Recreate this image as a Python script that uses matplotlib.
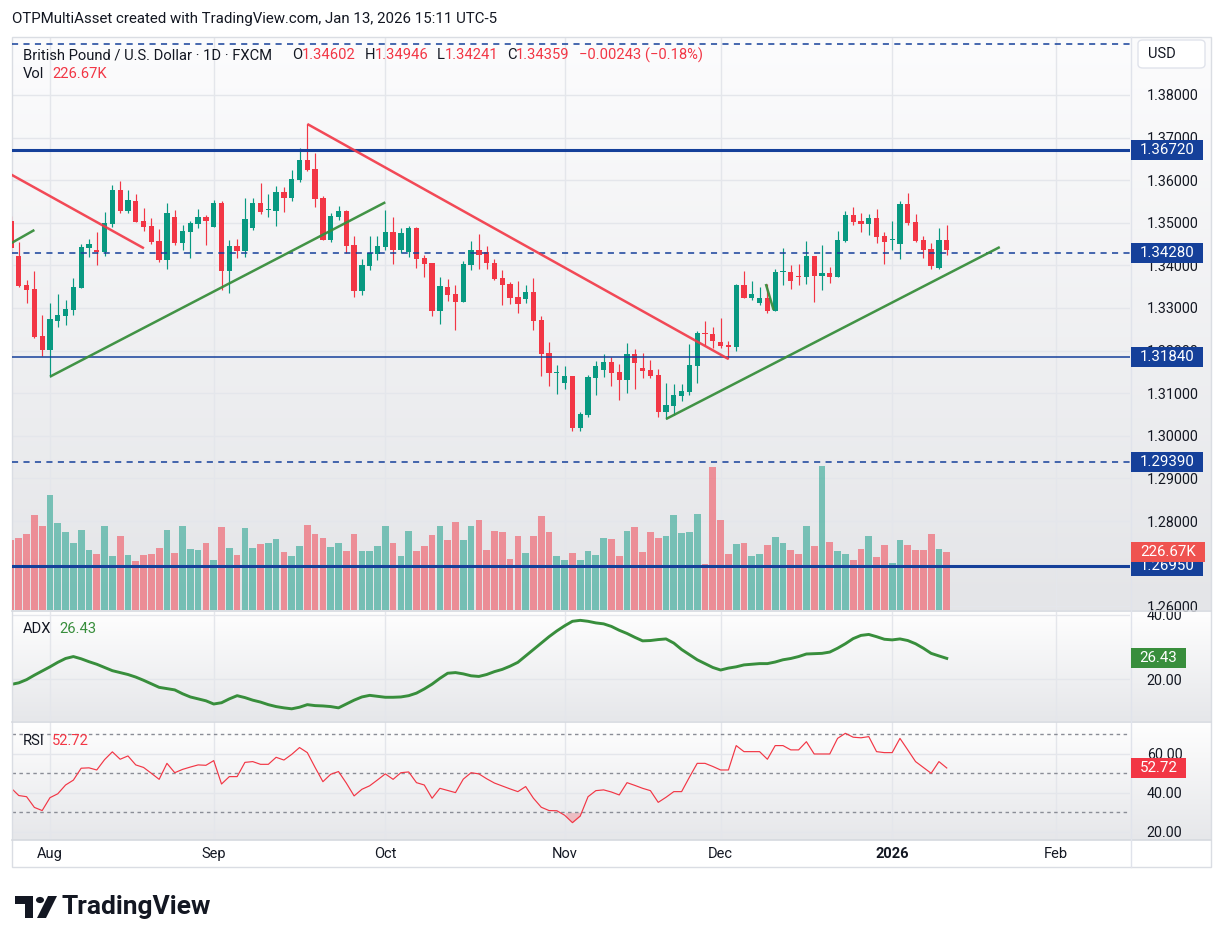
import numpy as np
import matplotlib
matplotlib.use('Agg')
import matplotlib.pyplot as plt
from matplotlib.patches import Rectangle, FancyBboxPatch, Polygon, Circle
from matplotlib.lines import Line2D
from matplotlib.colors import LinearSegmentedColormap
from matplotlib.transforms import blended_transform_factory

plt.rcParams['font.family'] = ['Roboto', 'DejaVu Sans']

# --- данные: дневные свечи GBPUSD (FXCM), 25 июл 2025 - 13 янв 2026 ---
opens = [1.3505, 1.34221, 1.3354, 1.33446, 1.32343, 1.32014, 1.32695, 1.32819, 1.32953, 1.33477,
         1.34409, 1.34362, 1.34322, 1.34972, 1.3577, 1.35284, 1.35512, 1.35042, 1.34925, 1.34573,
         1.34134, 1.35136, 1.34533, 1.34791, 1.34972, 1.35136, 1.34901, 1.35465, 1.33869, 1.34455,
         1.34345, 1.34878, 1.35465, 1.3530, 1.35284, 1.35723, 1.35582, 1.36005, 1.36474, 1.36263,
         1.35582, 1.34603, 1.35136, 1.35277, 1.34479, 1.33399, 1.33993, 1.34275, 1.34432, 1.34784,
         1.34362, 1.34315, 1.34878, 1.34181, 1.34056, 1.32937, 1.33493, 1.33329, 1.33141, 1.34016,
         1.34362, 1.34308, 1.34049, 1.33704, 1.33563, 1.3325, 1.33211, 1.33376, 1.32718, 1.31944,
         1.3148, 1.31239, 1.31404, 1.30183, 1.30488, 1.31357, 1.31545, 1.31732, 1.31497, 1.3131,
         1.3192, 1.31592, 1.31545, 1.31427, 1.30559, 1.307, 1.30934, 1.31028, 1.31639, 1.3241,
         1.3239, 1.32202, 1.32131, 1.32092, 1.3354, 1.33235, 1.33117, 1.33235, 1.3293, 1.3384,
         1.33845, 1.3376, 1.33728, 1.34221, 1.33751, 1.33822, 1.33728, 1.34573, 1.35183, 1.35042,
         1.34972, 1.35113, 1.3469, 1.3459, 1.34502, 1.35441, 1.35019, 1.34596, 1.34385, 1.33939,
         1.34602]
highs = [1.3515, 1.34557, 1.33657, 1.33869, 1.32836, 1.33125, 1.33329, 1.33188, 1.33704, 1.34502,
         1.34627, 1.34784, 1.35254, 1.35887, 1.35981, 1.3577, 1.35676, 1.35347, 1.35113, 1.34854,
         1.35465, 1.353, 1.34948, 1.35042, 1.35324, 1.35183, 1.35535, 1.35512, 1.34596, 1.3462,
         1.35582, 1.35582, 1.35941, 1.35676, 1.35864, 1.3584, 1.36239, 1.36756, 1.37319, 1.36639,
         1.35622, 1.3523, 1.35394, 1.3531, 1.3469, 1.3415, 1.3469, 1.3469, 1.353, 1.35136,
         1.34878, 1.34925, 1.34901, 1.34244, 1.3406, 1.33728, 1.33681, 1.33547, 1.34103, 1.34573,
         1.34737, 1.34455, 1.34143, 1.33892, 1.3361, 1.33634, 1.3354, 1.33704, 1.32812, 1.32202,
         1.31662, 1.31639, 1.3141, 1.30559, 1.31427, 1.31756, 1.3192, 1.3185, 1.31685, 1.32178,
         1.32038, 1.31944, 1.31779, 1.31568, 1.31239, 1.31216, 1.31216, 1.32155, 1.3246, 1.32695,
         1.32554, 1.32765, 1.32225, 1.33563, 1.33869, 1.33634, 1.33493, 1.33563, 1.33916, 1.34409,
         1.34009, 1.34033, 1.34573, 1.3423, 1.34479, 1.33962, 1.34808, 1.35277, 1.35371, 1.3523,
         1.35207, 1.35324, 1.34784, 1.35042, 1.35512, 1.357, 1.35207, 1.3469, 1.34526, 1.34878,
         1.34946]
lows = [1.3430, 1.3350, 1.3311, 1.3230, 1.31873, 1.31388, 1.32561, 1.32608, 1.32836, 1.3347,
        1.34204, 1.34016, 1.34228, 1.34908, 1.35237, 1.35237, 1.3502, 1.34815, 1.34509, 1.34087,
        1.33923, 1.34479, 1.34369, 1.34181, 1.34878, 1.34479, 1.3490, 1.33423, 1.33359, 1.34181,
        1.34204, 1.34831, 1.35207, 1.35143, 1.34925, 1.35254, 1.35519, 1.35958, 1.3622, 1.35378,
        1.3460, 1.34549, 1.35066, 1.34298, 1.33265, 1.33305, 1.33892, 1.34127, 1.34362, 1.3404,
        1.34291, 1.34204, 1.33946, 1.33735, 1.32812, 1.32631, 1.33164, 1.32484, 1.3313, 1.33899,
        1.33923, 1.33923, 1.33657, 1.3307, 1.33094, 1.32883, 1.33117, 1.32484, 1.31404, 1.31169,
        1.30981, 1.31099, 1.30113, 1.30113, 1.30441, 1.30958, 1.3138, 1.31169, 1.3084, 1.31005,
        1.31099, 1.31357, 1.31357, 1.30441, 1.30394, 1.30488, 1.30817, 1.30958, 1.31239, 1.32131,
        1.32061, 1.32068, 1.31803, 1.31998, 1.3323, 1.33188, 1.3307, 1.32883, 1.3292, 1.3354,
        1.33446, 1.3354, 1.33563, 1.33141, 1.33423, 1.33587, 1.3372, 1.3456, 1.34948, 1.34784,
        1.34714, 1.34526, 1.34033, 1.34362, 1.3415, 1.34948, 1.3456, 1.34174, 1.33916, 1.3392,
        1.34241]
closes = [1.3440, 1.33524, 1.33423, 1.32319, 1.32014, 1.32742, 1.32836, 1.32977, 1.335, 1.34439,
          1.34502, 1.34322, 1.34995, 1.3577, 1.35284, 1.35535, 1.35026, 1.34901, 1.34556, 1.34134,
          1.3523, 1.34526, 1.34808, 1.34995, 1.35136, 1.35042, 1.35465, 1.33869, 1.34455, 1.34338,
          1.35089, 1.35465, 1.35254, 1.3531, 1.35723, 1.35582, 1.36028, 1.36474, 1.36239, 1.35566,
          1.34603, 1.3516, 1.35277, 1.34462, 1.33399, 1.34009, 1.34284, 1.34455, 1.34784, 1.34362,
          1.3476, 1.34878, 1.34157, 1.3404, 1.32937, 1.33516, 1.33312, 1.33141, 1.34033, 1.34362,
          1.34251, 1.34049, 1.33681, 1.3354, 1.33242, 1.33101, 1.33376, 1.32702, 1.3192, 1.31474,
          1.3149, 1.31404, 1.30183, 1.30512, 1.3138, 1.31639, 1.31732, 1.31474, 1.3131, 1.3192,
          1.31716, 1.31521, 1.31404, 1.30559, 1.30723, 1.30958, 1.31052, 1.31662, 1.32413, 1.3239,
          1.32225, 1.32115, 1.32092, 1.3354, 1.33242, 1.33329, 1.33235, 1.3293, 1.33845, 1.3385,
          1.33634, 1.3373, 1.34221, 1.33751, 1.33822, 1.33728, 1.34596, 1.35183, 1.35019, 1.34972,
          1.35113, 1.34667, 1.34549, 1.346, 1.35441, 1.34995, 1.34573, 1.34362, 1.33986, 1.34602,
          1.34359]
# объём, тысячи
volume_k = [273, 281, 297, 371, 328, 449, 340, 305, 262, 313, 234, 219, 328, 211, 289, 215, 191, 215,
            219, 242, 313, 223, 328, 238, 234, 262, 195, 324, 242, 215, 320, 242, 258, 262, 277, 227,
            211, 250, 332, 297, 281, 246, 262, 231, 297, 231, 231, 250, 328, 262, 211, 309, 231, 250,
            293, 328, 274, 344, 274, 328, 352, 234, 309, 305, 199, 289, 223, 289, 367, 305, 211, 195,
            223, 195, 231, 215, 281, 277, 211, 309, 324, 227, 305, 281, 289, 371, 301, 305, 375, 180,
            559, 352, 219, 258, 262, 211, 219, 254, 285, 262, 234, 219, 328, 250, 563, 266, 231, 219,
            195, 238, 289, 207, 254, 184, 274, 254, 234, 234, 297, 238, 226.67]
adx = [18.3, 18.8, 19.8, 21.2, 22.5, 23.8, 25.2, 26.4, 27.0, 26.3, 25.4, 24.6, 23.6, 22.6, 22.0, 21.4,
       20.6, 19.6, 18.5, 17.4, 17.0, 16.6, 15.4, 14.4, 13.8, 13.2, 12.2, 12.6, 13.8, 14.8, 14.2, 13.4,
       12.8, 12.0, 11.4, 11.0, 10.7, 11.2, 12.0, 11.7, 11.6, 11.4, 11.0, 12.2, 13.4, 14.4, 14.9, 14.6,
       14.3, 14.3, 14.4, 14.8, 15.6, 16.9, 18.4, 20.2, 21.8, 22.0, 21.6, 21.0, 20.8, 21.4, 22.3, 23.0,
       24.0, 25.2, 27.2, 29.2, 31.2, 33.2, 35.0, 36.6, 38.0, 38.3, 38.0, 37.5, 37.2, 36.4, 35.2, 34.2,
       33.0, 31.9, 32.0, 32.3, 32.5, 31.2, 29.2, 27.6, 26.0, 24.8, 23.6, 22.8, 23.4, 23.8, 24.4, 24.6,
       24.8, 24.8, 25.3, 26.0, 26.4, 27.0, 27.8, 27.9, 28.0, 28.4, 29.6, 31.0, 32.6, 33.6, 33.9, 33.2,
       32.4, 32.2, 32.5, 32.0, 31.0, 29.6, 28.0, 27.2, 26.43]
rsi = [42.5, 38.6, 38.0, 32.5, 30.9, 37.5, 39.5, 44.0, 46.5, 52.6, 52.8, 51.7, 57.0, 61.0, 57.2, 58.9,
       54.3, 53.0, 50.0, 46.9, 55.1, 50.3, 52.0, 53.2, 54.3, 54.1, 56.5, 44.5, 48.3, 48.3, 55.6, 56.0,
       54.6, 54.6, 58.2, 56.8, 59.7, 63.2, 60.6, 53.0, 45.7, 49.5, 50.9, 45.0, 38.4, 41.8, 43.6, 46.6,
       49.7, 46.9, 50.3, 50.7, 45.2, 44.0, 37.2, 42.3, 41.2, 40.1, 47.0, 50.3, 49.7, 47.2, 45.0, 43.5,
       42.0, 40.6, 43.2, 37.2, 32.6, 30.9, 30.8, 28.5, 24.7, 28.1, 38.0, 41.1, 41.5, 40.4, 38.9, 45.2,
       43.8, 42.3, 41.1, 35.1, 37.7, 40.6, 40.6, 48.0, 55.1, 55.1, 53.5, 51.7, 51.7, 64.2, 61.1, 61.1,
       61.1, 57.2, 64.2, 64.2, 62.0, 62.0, 66.2, 59.9, 59.9, 59.9, 67.9, 70.5, 68.5, 68.2, 68.8, 61.1,
       60.6, 60.6, 67.9, 62.0, 56.0, 53.0, 50.0, 56.0, 52.72]

# подписи месяцев (номер бара)
month_idx = [5, 26, 48, 71, 91, 113, 134]
month_lbl = ['Aug', 'Sep', 'Oct', 'Nov', 'Dec', '2026', 'Feb']

# горизонтальные уровни: цена, стиль, толщина, подпись
levels = [(1.3920, 'dash', 1.1, None), (1.3672, 'solid', 2.2, '1.36720'),
          (1.3428, 'dash', 1.1, '1.34280'), (1.3184, 'solid', 1.1, '1.31840'),
          (1.2939, 'dash', 1.1, '1.29390'), (1.2695, 'solid', 2.2, '1.26950')]
# трендовые линии: (бар, цена) -> (бар, цена)
red_lines = [((-1.0, 1.36236), (17.05, 1.34401)), ((38, 1.37319), (92, 1.31803))]
green_lines = [((-1.0, 1.34415), (3.0, 1.34831)), ((5, 1.31388), (48, 1.35481)),
               ((84, 1.30394), (126.8, 1.3443)), ((96.8, 1.33563), (97.8, 1.32953))]

GREEN = '#089981'
RED = '#F23645'
BLUE = '#15409A'
TXT = '#131722'
GRID = '#E4E6EB'
LGREEN = '#388E3C'

W, H = 1224, 944
LEFT, RIGHT = 12, 1130


def fx(px):
    return px / W


def fy(py):
    return 1 - py / H


def rect(top, bot, x0=LEFT, x1=RIGHT):
    return [fx(x0), fy(bot), fx(x1) - fx(x0), (bot - top) / H]


fig = plt.figure(figsize=(W / 100, H / 100), dpi=100)
fig.patch.set_facecolor('white')


def pane_bg(top, bot, c0, c1):
    a = fig.add_axes(rect(top, bot, LEFT, 1211), zorder=-5)
    cmap = LinearSegmentedColormap.from_list('bg', [c0, c1])
    a.imshow(np.linspace(0, 1, 200)[:, None], aspect='auto', cmap=cmap, extent=[0, 1, 0, 1])
    a.axis('off')


P_TOP, P_BOT = 37, 610
A_TOP, A_BOT = 612, 721
R_TOP, R_BOT = 722, 840
pane_bg(P_TOP, P_BOT, '#FCFCFD', '#E4E5E8')
pane_bg(A_TOP, A_BOT, '#FEFEFE', '#E6E7EA')
pane_bg(R_TOP, R_BOT, '#FEFEFE', '#E6E7EA')

x = np.arange(len(closes))
o, h, l, c = map(np.array, (opens, highs, lows, closes))
up = c >= o
cols = np.where(up, GREEN, RED)
xlim = (0.13, 143.5)
ylim_p = (1.25911, 1.39361)


def style(a, yticks, fmt):
    for s in a.spines.values():
        s.set_visible(False)
    a.patch.set_visible(False)
    a.set_xlim(*xlim)
    a.set_xticks(month_idx)
    a.set_yticks(yticks)
    a.set_yticklabels([fmt % v for v in yticks])
    a.yaxis.tick_right()
    a.tick_params(axis='both', length=0, labelsize=10.3, labelcolor=TXT)
    a.tick_params(axis='y', pad=12)
    a.tick_params(axis='x', labelbottom=False)
    a.grid(color=GRID, lw=1)


# сетка цены
ax_g = fig.add_axes(rect(P_TOP, P_BOT), zorder=0)
style(ax_g, np.round(np.arange(1.26, 1.3801, 0.01), 2), '%.5f')
ax_g.set_ylim(*ylim_p)

# объём
axv = fig.add_axes(rect(P_TOP, P_BOT), zorder=1)
axv.bar(x, np.array(volume_k) * 1000, width=0.86, color=cols, alpha=0.5, lw=0)
axv.set_xlim(*xlim)
axv.set_ylim(0, 2.24e6)
axv.axis('off')

# свечи и разметка
ax = fig.add_axes(rect(P_TOP, P_BOT), zorder=2)
ax.vlines(x, l, h, colors=cols, lw=0.85)
ax.bar(x, np.maximum(np.abs(c - o), 0.00018), bottom=np.minimum(o, c), width=0.68, color=cols, lw=0)
for lev, ls, lw, _ in levels:
    if ls == 'dash':
        ax.axhline(lev, color=BLUE, lw=lw, ls=(0, (4, 3.5)))
    else:
        ax.axhline(lev, color=BLUE, lw=lw)
for (x0, y0), (x1, y1) in red_lines:
    ax.plot([x0, x1], [y0, y1], color=RED, lw=1.8, alpha=0.9, solid_capstyle='butt')
for (x0, y0), (x1, y1) in green_lines:
    ax.plot([x0, x1], [y0, y1], color=LGREEN, lw=1.8, alpha=0.95, solid_capstyle='butt')
ax.set_xlim(*xlim)
ax.set_ylim(*ylim_p)
ax.axis('off')

# ADX
ax_a = fig.add_axes(rect(A_TOP, A_BOT))
style(ax_a, [20, 40], '%.2f')
ax_a.plot(x, adx, color=LGREEN, lw=2.1)
ax_a.set_ylim(6.9, 40.9)

# RSI
ax_r = fig.add_axes(rect(R_TOP, R_BOT))
style(ax_r, [20, 40, 60], '%.2f')
for lev in (30, 50, 70):
    ax_r.axhline(lev, color='#8A8D96', lw=1, ls=(0, (2.5, 2.5)))
ax_r.plot(x, rsi, color=RED, lw=0.85)
r = np.array(rsi)
ax_r.fill_between(x, r, 30, where=r < 30, color=RED, alpha=0.25, lw=0)
ax_r.set_ylim(15.8, 76.3)
ax_r.tick_params(axis='x', labelbottom=True, pad=5, labelsize=10.5)
ax_r.set_xticklabels(month_lbl)
ax_r.get_xticklabels()[5].set_fontweight('bold')

# рамка и разделители
fig.add_artist(Rectangle((fx(12), fy(867)), fx(1211) - fx(12), (867 - 37) / H, fill=False,
                         ec='#DADDE3', lw=1, transform=fig.transFigure))
for yy in (611, 721.5, 840):
    fig.add_artist(Line2D([fx(12), fx(1211)], [fy(yy), fy(yy)], color='#D6D9DF', lw=1.2))
fig.add_artist(Line2D([fx(1130.5), fx(1130.5)], [fy(37), fy(867)], color='#E0E3EB', lw=1))


def tag(a, val, text, fc, x0=1131, x1=1203, hpx=20, zo=5):
    tr = blended_transform_factory(fig.transFigure, a.transData)
    y0, y1 = a.get_ylim()
    per_px = (y1 - y0) / (a.get_position().height * H)
    fig.add_artist(Rectangle((fx(x0), val - hpx / 2 * per_px), fx(x1) - fx(x0), hpx * per_px,
                             transform=tr, fc=fc, ec='none', zorder=zo))
    fig.text(fx((x0 + x1) / 2), val, text, transform=tr, ha='center', va='center',
             color='white', fontsize=10.8, zorder=zo + 0.5)


for lev, _, _, lbl in levels:
    if lbl:
        tag(ax, lev, lbl, BLUE)
tag(axv, volume_k[-1] * 1000, '226.67K', '#EF5350', x1=1205, zo=7)
tag(ax_a, adx[-1], '%.2f' % adx[-1], LGREEN, x1=1186)
tag(ax_r, rsi[-1], '%.2f' % rsi[-1], RED, x1=1186)

# USD
fig.add_artist(FancyBboxPatch((fx(1138), fy(68)), fx(1205) - fx(1138), 28 / H,
                              boxstyle='round,pad=0,rounding_size=0.004', transform=fig.transFigure,
                              fc='white', ec='#E0E3EB', lw=1, zorder=5))
fig.text(fx(1148), fy(54), 'USD', color=TXT, fontsize=10.5, va='center', zorder=6)


def segs(y_px, parts, size=10.6):
    for xp, s, col in parts:
        fig.text(fx(xp), fy(y_px), s, color=col, fontsize=size, va='center', ha='left', zorder=6)


fig.text(fx(12), fy(19), 'OTPMultiAsset created with TradingView.com, Jan 13, 2026 15:11 UTC-5',
         color=TXT, fontsize=10.8, va='center')
segs(55, [(23, 'British Pound / U.S. Dollar · 1D · FXCM', TXT), (292, 'O', TXT), (302, '1.34602', RED),
          (365, 'H', TXT), (375, '1.34946', RED), (437, 'L', TXT), (445, '1.34241', RED),
          (507, 'C', TXT), (516, '1.34359', RED), (579, '−0.00243 (−0.18%)', RED)])
segs(74, [(23, 'Vol', TXT), (52, '226.67K', RED)])
segs(629, [(23, 'ADX', TXT), (59, '26.43', LGREEN)])
segs(741, [(23, 'RSI', TXT), (52, '52.72', RED)])

# логотип TradingView
logo = [(15, 896), (33, 896), (33, 918), (25, 918), (25, 904), (15, 904)]
fig.add_artist(Polygon([(fx(a), fy(b)) for a, b in logo], closed=True, fc=TXT, ec='none',
                       transform=fig.transFigure))
fig.add_artist(Circle((fx(40), fy(900)), 4 / W, fc=TXT, ec='none', transform=fig.transFigure))
slash = [(48, 896), (57, 896), (46, 918), (37, 918)]
fig.add_artist(Polygon([(fx(a), fy(b)) for a, b in slash], closed=True, fc=TXT, ec='none',
                       transform=fig.transFigure))
fig.text(fx(62), fy(907), 'TradingView', color=TXT, fontsize=19, fontweight='bold', va='center')

fig.savefig('out.png', dpi=100, facecolor='white')
